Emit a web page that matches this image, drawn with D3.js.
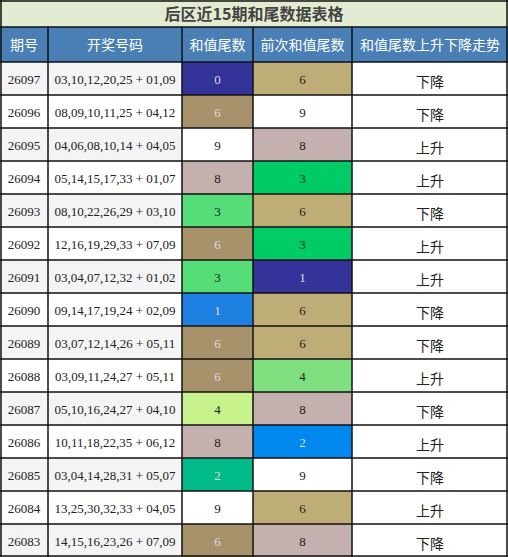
<!DOCTYPE html>
<html><head><meta charset="utf-8">
<script src="https://cdn.jsdelivr.net/npm/d3@7"></script>
<style>body{margin:0;background:#fff}</style>
</head><body>
<script>
const periods = ["26097","26096","26095","26094","26093","26092","26091","26090","26089","26088","26087","26086","26085","26084","26083"];
const draws = ["03,10,12,20,25 + 01,09","08,09,10,11,25 + 04,12","04,06,08,10,14 + 04,05","05,14,15,17,33 + 01,07","08,10,22,26,29 + 03,10","12,16,19,29,33 + 07,09","03,04,07,12,32 + 01,02","09,14,17,19,24 + 02,09","03,07,12,14,26 + 05,11","03,09,11,24,27 + 05,11","05,10,16,24,27 + 04,10","10,11,18,22,35 + 06,12","03,04,14,28,31 + 05,07","13,25,30,32,33 + 04,05","14,15,16,23,26 + 07,09"];
const tails = [0,6,9,8,3,6,3,1,6,6,4,8,2,9,6];
const prevTails = [6,9,8,3,6,3,1,6,6,4,8,2,9,6,8];
const trends = ["下降","下降","上升","上升","下降","上升","上升","下降","下降","上升","下降","上升","下降","上升","下降"];
const headers = ["期号","开奖号码","和值尾数","前次和值尾数","和值尾数上升下降走势"];

// cell colours per digit, one scheme per column
const tailColor = {0:"#333399",1:"#1e80e0",2:"#00bb88",3:"#55dd77",4:"#c8f28c",6:"#a8926c",8:"#c4b0ae",9:"#ffffff"};
const prevColor = {1:"#333399",2:"#0088ee",3:"#00cc66",4:"#80e080",6:"#bfad78",8:"#c4b0ae",9:"#ffffff"};
const tailText = {0:"#ddd",1:"#ddd",2:"#ddd",6:"#ddd"};
const prevText = {1:"#ddd",2:"#ddd"};

const W = 508, H = 557;
const colEdges = [0,48,182,253,352,508];
const titleH = 27, headH = 35;
const svg = d3.select("body").append("svg").attr("width", W).attr("height", H);

const y = d3.scaleBand().domain(periods).range([titleH + headH, H]);

svg.append("rect").attr("x",0).attr("y",0).attr("width",W).attr("height",titleH).attr("fill","#e3ecd0");
svg.append("text").attr("x",W/2).attr("y",titleH/2+6).attr("text-anchor","middle")
  .attr("font-family","Noto Sans CJK SC").attr("font-weight","bold").attr("font-size",16).attr("fill","#444")
  .text("后区近15期和尾数据表格");

svg.append("rect").attr("x",0).attr("y",titleH).attr("width",W).attr("height",headH).attr("fill","#4a7fb5");
headers.forEach((h,i) => {
  svg.append("text").attr("x",(colEdges[i]+colEdges[i+1])/2).attr("y",titleH+headH/2+5)
    .attr("text-anchor","middle").attr("font-family","Noto Sans CJK SC").attr("font-size",14).attr("fill","#fff").text(h);
});

const rows = svg.append("g").selectAll("g").data(periods).join("g")
  .attr("transform", d => `translate(0,${y(d)})`);
const bh = y.bandwidth();
const serif = "Liberation Serif";

rows.each(function(p, i) {
  const g = d3.select(this);
  const bg = i % 2 === 0 ? "#f4f4f4" : "#ffffff";
  const cells = [
    {fill:bg, text:p, color:"#222", font:serif, size:13},
    {fill:bg, text:draws[i], color:"#222", font:serif, size:13},
    {fill:tailColor[tails[i]], text:tails[i], color:tailText[tails[i]]||"#222", font:serif, size:13},
    {fill:prevColor[prevTails[i]], text:prevTails[i], color:prevText[prevTails[i]]||"#222", font:serif, size:13},
    {fill:"#ffffff", text:trends[i], color:"#222", font:"Noto Sans CJK SC", size:14, dy:3}
  ];
  cells.forEach((c,j) => {
    g.append("rect").attr("x",colEdges[j]).attr("y",0).attr("width",colEdges[j+1]-colEdges[j]).attr("height",bh).attr("fill",c.fill);
    g.append("text").attr("x",(colEdges[j]+colEdges[j+1])/2).attr("y",bh/2+5+(c.dy||0))
      .attr("text-anchor","middle").attr("font-family",c.font).attr("font-size",c.size).attr("fill",c.color).text(c.text);
  });
});

// grid lines
const grid = svg.append("g").attr("stroke","#111").attr("stroke-width",1.5);
colEdges.forEach(x => grid.append("line").attr("x1",Math.min(Math.max(x,1),W-1)).attr("x2",Math.min(Math.max(x,1),W-1)).attr("y1",titleH).attr("y2",H));
[titleH, titleH+headH].concat(periods.map(p => y(p) + bh)).forEach(v =>
  grid.append("line").attr("x1",0).attr("x2",W).attr("y1",Math.min(v,H-1)).attr("y2",Math.min(v,H-1)));
grid.append("line").attr("x1",1).attr("x2",1).attr("y1",0).attr("y2",titleH);
grid.append("line").attr("x1",W-1).attr("x2",W-1).attr("y1",0).attr("y2",titleH);
grid.append("line").attr("x1",0).attr("x2",W).attr("y1",1).attr("y2",1);
</script>
</body></html>
